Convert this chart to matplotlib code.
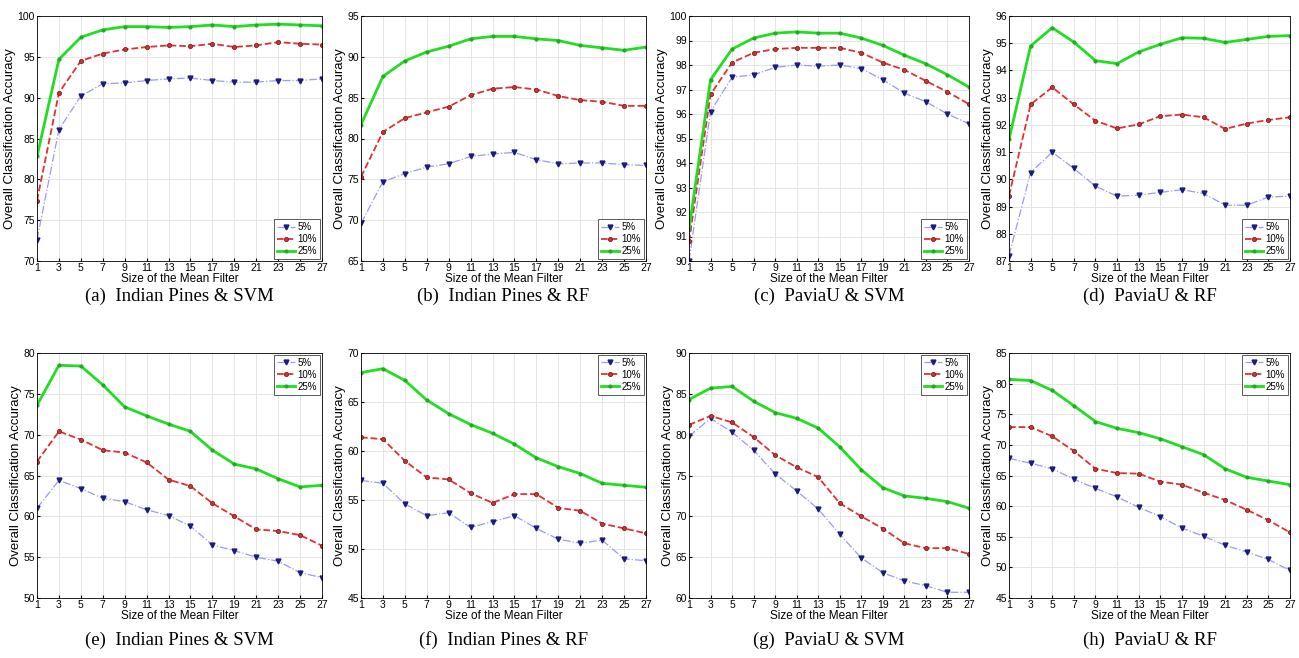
import numpy as np
import matplotlib
matplotlib.use("Agg")
from matplotlib import pyplot as plt

filter_size = [1, 3, 5, 7, 9, 11, 13, 15, 17, 19, 21, 23, 25, 27]
series_names = ["5%", "10%", "25%"]
captions = ["(a)  Indian Pines & SVM", "(b)  Indian Pines & RF",
            "(c)  PaviaU & SVM", "(d)  PaviaU & RF",
            "(e)  Indian Pines & SVM", "(f)  Indian Pines & RF",
            "(g)  PaviaU & SVM", "(h)  PaviaU & RF"]

# (a) Indian Pines & SVM
a_5 = [72.6, 86.1, 90.2, 91.7, 91.8, 92.1, 92.3, 92.4, 92.1, 91.9, 91.9, 92.1, 92.1, 92.3]
a_10 = [77.4, 90.6, 94.5, 95.4, 95.9, 96.2, 96.4, 96.3, 96.6, 96.2, 96.4, 96.8, 96.6, 96.5]
a_25 = [82.8, 94.7, 97.4, 98.3, 98.7, 98.7, 98.6, 98.7, 98.9, 98.7, 98.9, 99.0, 98.9, 98.8]
# (b) Indian Pines & RF
b_5 = [69.6, 74.7, 75.7, 76.5, 76.9, 77.8, 78.1, 78.3, 77.4, 76.9, 77.0, 77.0, 76.8, 76.7]
b_10 = [75.3, 80.8, 82.5, 83.2, 83.9, 85.3, 86.1, 86.3, 86.0, 85.2, 84.7, 84.5, 84.0, 84.0]
b_25 = [81.7, 87.6, 89.5, 90.6, 91.3, 92.2, 92.5, 92.5, 92.2, 92.0, 91.4, 91.1, 90.8, 91.2]
# (c) PaviaU & SVM
c_5 = [90.0, 96.1, 97.5, 97.6, 97.9, 98.0, 97.95, 98.0, 97.85, 97.4, 96.85, 96.5, 96.0, 95.6]
c_10 = [90.8, 96.8, 98.1, 98.5, 98.65, 98.7, 98.7, 98.7, 98.5, 98.1, 97.8, 97.35, 96.9, 96.4]
c_25 = [91.3, 97.4, 98.65, 99.1, 99.3, 99.35, 99.3, 99.3, 99.1, 98.8, 98.4, 98.05, 97.6, 97.1]
# (d) PaviaU & RF
d_5 = [87.2, 90.25, 91.0, 90.4, 89.75, 89.38, 89.42, 89.52, 89.62, 89.48, 89.05, 89.05, 89.35, 89.38]
d_10 = [89.4, 92.75, 93.38, 92.75, 92.15, 91.87, 92.02, 92.32, 92.38, 92.28, 91.85, 92.05, 92.18, 92.28]
d_25 = [91.47, 94.9, 95.57, 95.04, 94.36, 94.25, 94.68, 94.96, 95.2, 95.18, 95.03, 95.14, 95.25, 95.28]
# (e) Indian Pines & SVM
e_5 = [61.0, 64.4, 63.4, 62.2, 61.8, 60.8, 60.1, 58.8, 56.5, 55.8, 55.0, 54.5, 53.1, 52.5]
e_10 = [66.7, 70.4, 69.4, 68.1, 67.8, 66.6, 64.5, 63.7, 61.6, 60.0, 58.4, 58.2, 57.7, 56.4]
e_25 = [73.6, 78.5, 78.4, 76.1, 73.4, 72.3, 71.3, 70.4, 68.1, 66.4, 65.8, 64.6, 63.6, 63.8]
# (f) Indian Pines & RF
f_5 = [57.0, 56.7, 54.6, 53.4, 53.7, 52.2, 52.8, 53.4, 52.1, 51.0, 50.6, 50.9, 49.0, 48.8]
f_10 = [61.4, 61.2, 59.0, 57.3, 57.1, 55.7, 54.7, 55.6, 55.6, 54.2, 53.9, 52.6, 52.1, 51.6]
f_25 = [68.0, 68.4, 67.2, 65.2, 63.8, 62.7, 61.8, 60.7, 59.3, 58.4, 57.7, 56.7, 56.5, 56.3]
# (g) PaviaU & SVM
g_5 = [79.8, 82.0, 80.3, 78.1, 75.2, 73.1, 70.9, 67.8, 64.9, 63.1, 62.1, 61.5, 60.7, 60.7]
g_10 = [81.2, 82.3, 81.5, 79.7, 77.5, 76.0, 74.8, 71.6, 70.0, 68.5, 66.7, 66.1, 66.1, 65.4]
g_25 = [84.3, 85.7, 85.9, 84.1, 82.7, 82.0, 80.8, 78.5, 75.7, 73.5, 72.5, 72.2, 71.8, 71.0]
# (h) PaviaU & RF
h_5 = [67.8, 67.0, 66.1, 64.4, 62.9, 61.5, 59.8, 58.3, 56.4, 55.1, 53.6, 52.5, 51.3, 49.5]
h_10 = [72.9, 72.9, 71.4, 69.0, 66.1, 65.4, 65.3, 64.0, 63.5, 62.2, 61.0, 59.4, 57.7, 55.7]
h_25 = [80.7, 80.5, 78.9, 76.4, 73.8, 72.7, 72.0, 71.0, 69.7, 68.4, 66.1, 64.7, 64.1, 63.5]

panels = [(a_5, a_10, a_25), (b_5, b_10, b_25), (c_5, c_10, c_25), (d_5, d_10, d_25),
          (e_5, e_10, e_25), (f_5, f_10, f_25), (g_5, g_10, g_25), (h_5, h_10, h_25)]
y_limits = [(70, 100), (65, 95), (90, 100), (87, 96),
            (50, 80), (45, 70), (60, 90), (45, 85)]
y_steps = [5, 5, 1, 1, 5, 5, 5, 5]

W, H = 1299, 658
fig = plt.figure(figsize=(W / 100, H / 100), dpi=100)
plt.rcParams['font.family'] = ['Liberation Sans', 'DejaVu Sans']

lefts = [37, 361, 689, 1009]
rights = [322, 646, 969, 1290]
rows = [(16, 261), (353, 598)]
caption_y = [296, 640]

for i, (s5, s10, s25) in enumerate(panels):
    r, c = divmod(i, 4)
    top, bottom = rows[r]
    ax = fig.add_axes([lefts[c] / W, 1 - bottom / H,
                       (rights[c] - lefts[c]) / W, (bottom - top) / H])
    # 5%: pale line, dark triangles
    ax.plot(filter_size, s5, '-.', color='#9a9aee', linewidth=0.9,
            marker='v', markersize=3.5, markerfacecolor='#1a1a80',
            markeredgecolor='#1a1a80', label=series_names[0])
    ax.plot(filter_size, s10, '--', color='#e03030', linewidth=1.3,
            marker='o', markersize=3, markerfacecolor='#cc3333',
            markeredgecolor='#802020', markeredgewidth=0.6, label=series_names[1])
    ax.plot(filter_size, s25, '-', color='#22dd22', linewidth=2.0,
            marker='.', markersize=4, markerfacecolor='#22aa22',
            markeredgecolor='#22aa22', label=series_names[2])
    lo, hi = y_limits[i]
    ax.set_xlim(1, 27)
    ax.set_ylim(lo, hi)
    ax.set_xticks(filter_size)
    ax.set_yticks(np.arange(lo, hi + 0.01, y_steps[i]))
    ax.tick_params(labelsize=7.5, length=2, direction='in', pad=1.5)
    ax.grid(True, color='#e4e4e4', linewidth=0.7)
    for sp in ax.spines.values():
        sp.set_linewidth(0.6)
    ax.set_xlabel('Size of the Mean Filter', fontsize=8.5, labelpad=0)
    ax.set_ylabel('Overall Classification Accuracy', fontsize=9.5, labelpad=1)
    loc = 'lower right' if r == 0 else 'upper right'
    leg = ax.legend(loc=loc, fontsize=7, fancybox=False, framealpha=1,
                    edgecolor='#404040', borderpad=0.3, handlelength=1.8,
                    labelspacing=0.2, borderaxespad=0.2, handletextpad=0.3)
    leg.get_frame().set_linewidth(0.6)
    fig.text((lefts[c] + rights[c]) / 2 / W, 1 - caption_y[r] / H, captions[i],
             ha='center', va='center', fontsize=13.5,
             family=['Liberation Serif', 'DejaVu Serif'])

fig.savefig('out.png', dpi=100)
